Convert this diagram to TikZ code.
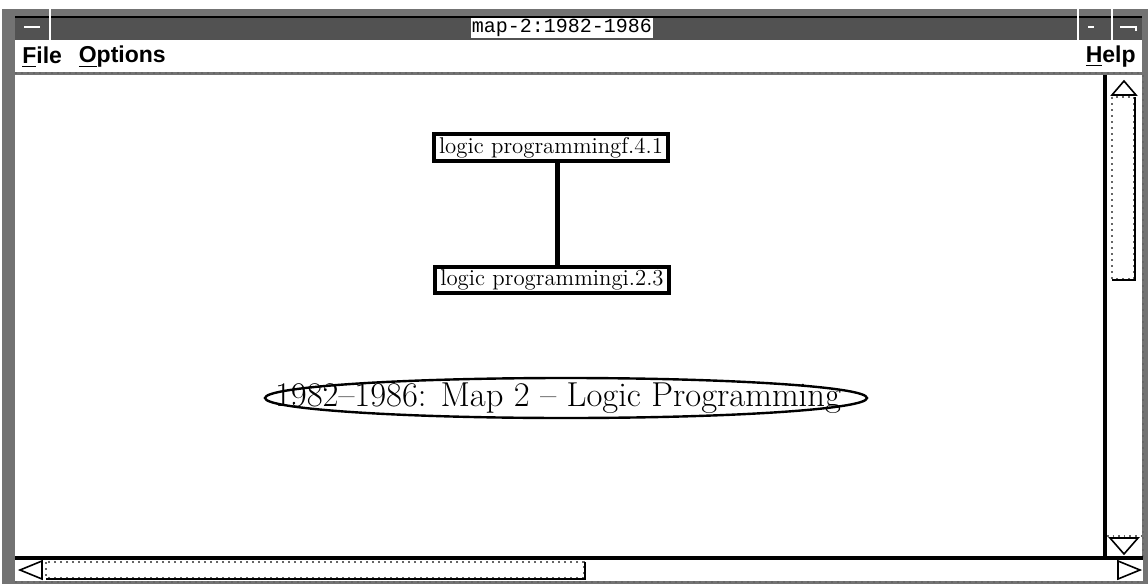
\documentclass[tikz,border=0pt]{standalone}
\usepackage{fontspec}
\usepackage{tikz}
\usetikzlibrary{shapes.geometric,positioning,calc}
\newfontfamily\menufont{Liberation Sans}
\newfontfamily\titlefont{Liberation Mono}
\newcommand{\ul}[1]{\underline{#1}}

\tikzset{
  mapbox/.style={draw, line width=2pt, fill=white, inner sep=1.5pt,
    minimum width=117pt, minimum height=13pt, font=\fontsize{11.4}{12}\selectfont},
  maptext/.style={inner sep=0pt, font=\fontsize{17.3}{19}\selectfont},
  menuitem/.style={font=\menufont\bfseries\fontsize{11.5}{13}\selectfont, inner sep=0pt},
  dither/.style={fill=black!55},
  ditherdark/.style={fill=black!68},
  scrolltip/.style={draw, line width=0.8pt, fill=white}
}

\begin{document}
\begin{tikzpicture}[x=0.5pt, y=-0.5pt]
    \useasboundingbox (0,0) rectangle (1148,584);
    \fill[white] (0,0) rectangle (1148,584);

    % window frame
    \fill[dither] (2,8) rectangle (1148,584);
    \fill[ditherdark] (15,17) rectangle (1142,40);
    \draw[white, line width=0.6pt] (2,8) -- (1148,8);
    \draw[black, line width=0.8pt] (15,17) -- (1142,17);

    % title bar buttons
    \draw[white, line width=0.8pt] (50,8) -- (50,40);
    \draw[white, line width=0.8pt] (1078,8) -- (1078,40);
    \draw[white, line width=0.8pt] (1112,8) -- (1112,40);
    \draw[white, line width=0.8pt] (24,27) -- (40,27);
    \draw[white, line width=0.8pt] (1088,27) -- (1094,27);
    \draw[white, line width=0.8pt] (1120,27) -- (1136,27) -- (1136,31);

    % title
    \node[fill=white, inner sep=0.5pt, minimum height=8.5pt,
      font=\titlefont\fontsize{10}{11}\selectfont] (title) at (562,28) {map-2:1982-1986};

    % menu bar
    \fill[white] (15,40) rectangle (1142,72);
    \draw[black!60, dotted, line width=1pt] (15,73) -- (1142,73);
    \node[menuitem, anchor=west] (file) at (22,57) {\ul{F}ile};
    \node[menuitem, right=8pt of file] (options) {\ul{O}ptions};
    \node[menuitem, anchor=east] (help) at (1136,57) {\ul{H}elp};

    % canvas
    \fill[white] (15,75) rectangle (1105,557);

    % vertical scrollbar
    \fill[white] (1107,75) rectangle (1142,557);
    \draw[black!60, dotted, line width=1pt] (1143,75) -- (1143,557);
    \draw[line width=1.6pt] (1105,75) -- (1105,558);
    \draw[scrolltip] (1124,81) -- (1136,95) -- (1112,95) -- cycle;
    \draw[black!60, dotted, line width=1pt] (1112,97) rectangle (1134,279);
    \draw[line width=1.2pt] (1135,97) -- (1135,280) -- (1112,280);
    \draw[scrolltip] (1124,554) -- (1138,538) -- (1110,538) -- cycle;
    \draw[black!60, dotted, line width=0.8pt] (1107,536) -- (1143,536);

    % horizontal scrollbar
    \fill[white] (15,558) rectangle (1143,581);
    \draw[line width=1.6pt] (15,558) -- (1143,558);
    \draw[scrolltip] (20,570) -- (42,561) -- (42,579) -- cycle;
    \draw[black!60, dotted, line width=1pt] (46,562) rectangle (584,578);
    \draw[line width=1.2pt] (585,562) -- (585,579) -- (46,579);
    \draw[scrolltip] (1140,570) -- (1118,561) -- (1118,579) -- cycle;
    \draw[black!60, dotted, line width=1pt] (15,582) -- (1143,582);

    % map nodes
    \node[mapbox] (lpf) at (551,147.5) {logic programmingf.4.1};
    \node[mapbox] (lpi) at (552,280) {logic programmingi.2.3};
    \draw[line width=2.5pt] ([xshift=3pt]lpf.south) -- ([xshift=3pt]lpf.south |- lpi.north);

    % map title
    \draw[line width=1.2pt, fill=white] (566,398) ellipse (301 and 20);
    \node[maptext] (maptitle) at (558,398) {1982--1986: Map 2 -- Logic Programming};
\end{tikzpicture}
\end{document}
